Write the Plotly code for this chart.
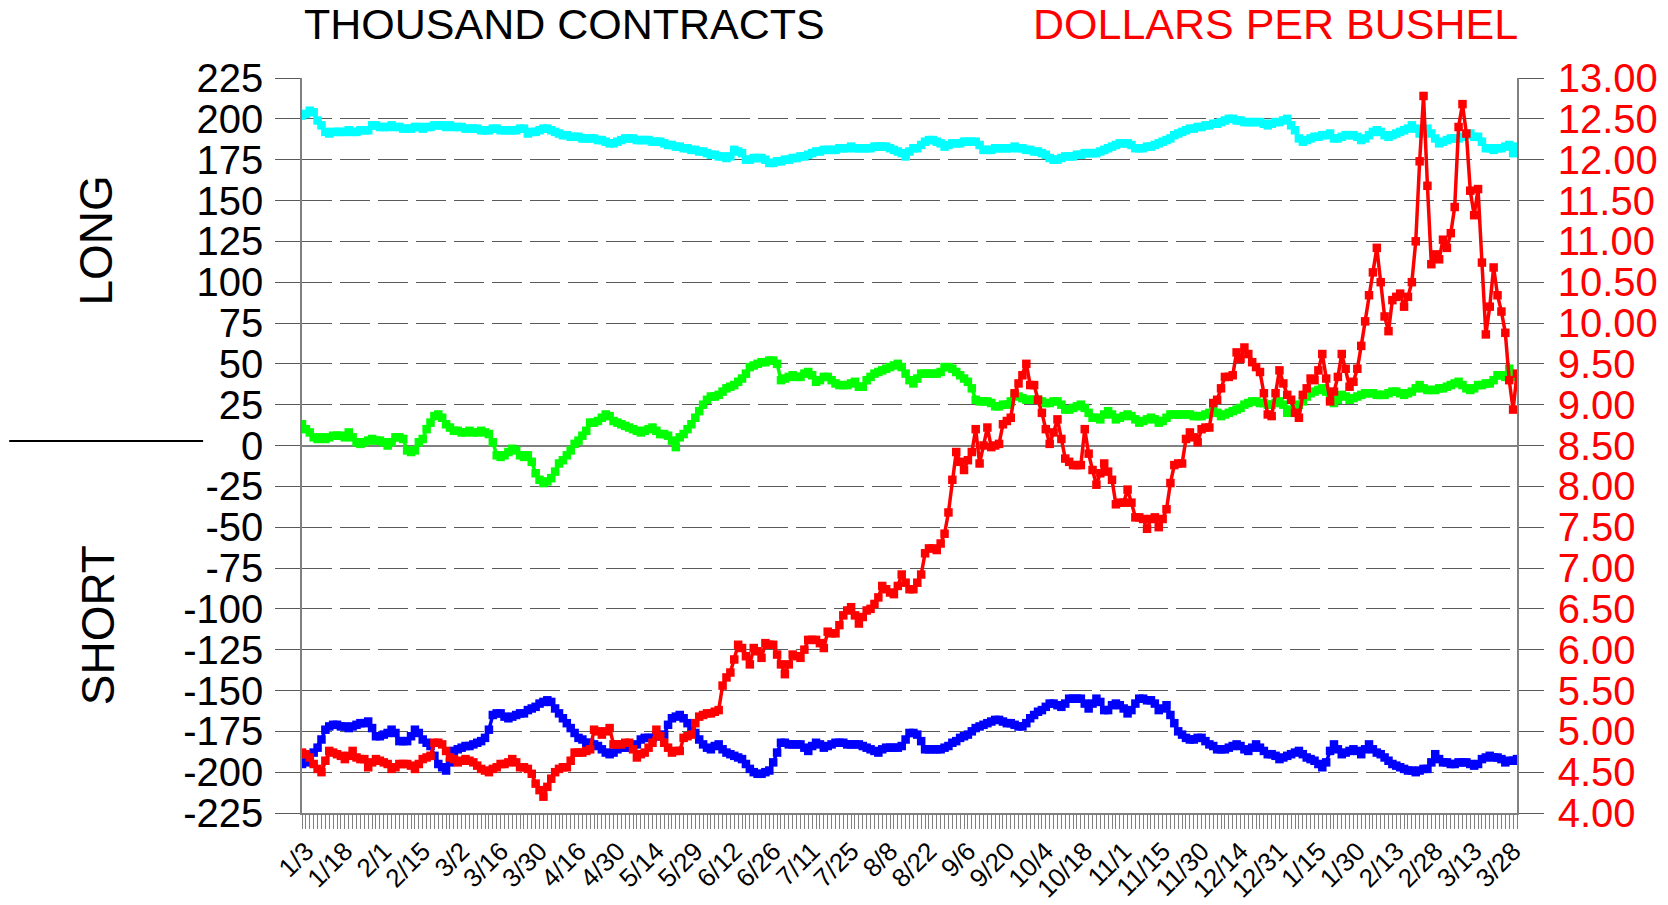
import plotly.graph_objects as go

tick_labels = ["1/3", "1/18", "2/1", "2/15", "3/2", "3/16", "3/30", "4/16", "4/30", "5/14",
               "5/29", "6/12", "6/26", "7/11", "7/25", "8/8", "8/22", "9/6", "9/20", "10/4",
               "10/18", "11/1", "11/15", "11/30", "12/14", "12/31", "1/15", "1/30", "2/13",
               "2/28", "3/13", "3/28"]
label_every = 10

# Long positions (thousand contracts)
long_pos = [
    202, 203, 205, 204, 199, 196, 192, 191, 192, 192,
    192, 192, 193, 192, 192, 193, 193, 193, 196, 196,
    195, 195, 195, 196, 195, 195, 194, 194, 194, 195,
    195, 194, 195, 195, 196, 196, 196, 195, 196, 195,
    195, 195, 194, 194, 194, 194, 193, 193, 193, 194,
    194, 193, 193, 193, 193, 193, 194, 194, 191, 192,
    192, 193, 194, 194, 193, 192, 191, 190, 190, 189,
    189, 189, 188, 188, 188, 188, 187, 187, 186, 185,
    185, 186, 187, 188, 188, 188, 187, 187, 187, 187,
    186, 186, 186, 185, 184, 184, 183, 183, 182, 182,
    181, 181, 180, 180, 179, 178, 178, 177, 177, 176,
    177, 181, 180, 179, 175, 175, 176, 176, 176, 175,
    173, 173, 174, 174, 175, 175, 176, 176, 177, 177,
    178, 179, 180, 180, 181, 181, 181, 181, 182, 182,
    182, 183, 182, 182, 182, 182, 182, 183, 183, 183,
    183, 182, 181, 180, 179, 177, 180, 182, 182, 184,
    186, 187, 187, 186, 185, 183, 184, 185, 185, 185,
    186, 186, 186, 186, 184, 181, 181, 181, 182, 182,
    182, 182, 182, 183, 182, 182, 181, 181, 180, 180,
    179, 178, 176, 175, 175, 176, 177, 177, 177, 178,
    178, 179, 179, 179, 179, 180, 181, 182, 183, 184,
    185, 185, 185, 184, 182, 182, 182, 183, 183, 184,
    185, 186, 187, 188, 190, 191, 192, 193, 194, 194,
    195, 195, 196, 196, 197, 197, 198, 199, 200, 200,
    199, 199, 198, 198, 198, 198, 198, 197, 196, 197,
    198, 198, 199, 200, 196, 193, 188, 186, 187, 188,
    189, 189, 190, 190, 191, 188, 188, 189, 190, 190,
    190, 189, 187, 188, 190, 192, 193, 192, 190, 189,
    190, 191, 192, 193, 194, 196, 194, 191, 192, 194,
    191, 188, 185, 186, 187, 188, 188, 188, 189, 190,
    191, 189, 189, 186, 182, 182, 181, 182, 182, 183,
    184, 179, 183,
]

# Net positions (thousand contracts)
net_pos = [
    13, 10, 8, 5, 4, 5, 4, 5, 6, 6,
    6, 5, 8, 5, 2, 1, 2, 3, 4, 3,
    3, 2, 0, 2, 5, 5, 4, -3, -4, -3,
    2, 4, 10, 14, 18, 19, 17, 13, 11, 9,
    9, 8, 8, 9, 8, 8, 9, 8, 7, 2,
    -6, -7, -6, -4, -2, -3, -6, -7, -6, -10,
    -17, -21, -23, -22, -20, -16, -11, -9, -6, -3,
    1, 3, 6, 9, 14, 14, 15, 17, 19, 18,
    15, 14, 13, 12, 11, 10, 9, 8, 9, 10,
    11, 9, 7, 7, 6, 3, -1, 5, 7, 10,
    13, 17, 21, 25, 28, 30, 30, 31, 33, 35,
    36, 37, 39, 41, 44, 48, 49, 50, 51, 51,
    52, 52, 50, 40, 41, 42, 43, 42, 42, 44,
    45, 43, 39, 40, 42, 42, 40, 38, 37, 37,
    37, 38, 39, 36, 36, 40, 42, 44, 45, 46,
    47, 48, 49, 50, 48, 44, 40, 38, 41, 44,
    44, 44, 44, 44, 45, 48, 48, 47, 45, 43,
    41, 39, 35, 28, 27, 27, 27, 26, 24, 24,
    25, 25, 27, 31, 30, 29, 28, 28, 28, 28,
    27, 26, 26, 27, 27, 25, 22, 22, 23, 24,
    25, 23, 20, 17, 17, 16, 19, 21, 19, 16,
    17, 18, 19, 18, 16, 14, 15, 16, 17, 16,
    14, 15, 17, 19, 19, 19, 19, 19, 19, 18,
    18, 18, 19, 20, 22, 20, 18, 19, 20, 21,
    22, 23, 25, 26, 27, 27, 26, 26, 25, 25,
    26, 27, 25, 20, 22, 24, 25, 27, 30, 32,
    33, 34, 35, 33, 29, 26, 28, 31, 30, 28,
    29, 30, 31, 32, 32, 32, 31, 31, 31, 32,
    33, 33, 32, 31, 32, 33, 35, 37, 35, 34,
    34, 34, 35, 35, 36, 37, 38, 39, 37, 35,
    34, 35, 37, 37, 38, 38, 40, 43, 43, 42,
    47, 43, 42,
]

# Short positions (thousand contracts)
short_pos = [
    -195, -194, -192, -188, -185, -180, -174, -172, -171, -171,
    -172, -172, -173, -172, -171, -170, -170, -169, -173, -178,
    -178, -177, -176, -174, -176, -181, -181, -181, -178, -174,
    -176, -180, -182, -184, -190, -195, -197, -199, -194, -187,
    -186, -185, -184, -184, -183, -182, -181, -179, -174, -165,
    -164, -164, -166, -167, -166, -165, -164, -164, -162, -161,
    -160, -158, -157, -156, -157, -161, -164, -167, -170, -173,
    -176, -179, -180, -182, -182, -183, -184, -186, -188, -189,
    -188, -186, -185, -185, -185, -184, -183, -180, -179, -179,
    -179, -178, -178, -177, -171, -167, -166, -165, -167, -170,
    -173, -176, -180, -183, -185, -186, -184, -183, -186, -188,
    -189, -190, -191, -192, -195, -198, -200, -201, -201, -200,
    -199, -194, -188, -182, -182, -183, -183, -183, -183, -185,
    -187, -184, -182, -183, -185, -184, -183, -182, -182, -182,
    -183, -183, -183, -183, -184, -185, -186, -187, -188, -186,
    -185, -185, -185, -185, -184, -180, -176, -176, -177, -181,
    -186, -186, -186, -186, -186, -185, -184, -182, -181, -179,
    -178, -177, -175, -173, -172, -171, -170, -169, -168, -168,
    -169, -170, -170, -171, -172, -172, -170, -167, -165, -163,
    -162, -160, -158, -158, -159, -160, -158, -155, -155, -155,
    -155, -158, -161, -158, -155, -157, -162, -162, -159, -158,
    -159, -161, -164, -162, -158, -155, -155, -156, -156, -158,
    -162, -161, -159, -165, -170, -175, -177, -179, -180, -180,
    -179, -179, -181, -183, -184, -186, -186, -186, -185, -184,
    -183, -184, -186, -187, -185, -183, -185, -187, -189, -189,
    -190, -192, -191, -190, -189, -188, -187, -189, -191, -192,
    -193, -195, -197, -194, -187, -183, -186, -189, -188, -187,
    -186, -187, -189, -186, -183, -186, -188, -189, -191, -193,
    -195, -196, -197, -198, -199, -199, -200, -199, -198, -198,
    -194, -189, -192, -194, -194, -195, -195, -194, -194, -194,
    -195, -196, -195, -192, -191, -190, -191, -191, -192, -194,
    -193, -193, -192,
]

# Price (dollars per bushel)
price = [
    4.74, 4.72, 4.68, 4.60, 4.54, 4.50, 4.64, 4.76, 4.74, 4.72,
    4.70, 4.66, 4.70, 4.76, 4.68, 4.66, 4.66, 4.56, 4.62, 4.66,
    4.64, 4.62, 4.60, 4.54, 4.56, 4.60, 4.60, 4.60, 4.58, 4.54,
    4.60, 4.66, 4.68, 4.70, 4.86, 4.86, 4.84, 4.76, 4.68, 4.66,
    4.62, 4.64, 4.66, 4.64, 4.62, 4.58, 4.54, 4.52, 4.50, 4.54,
    4.56, 4.60, 4.60, 4.62, 4.66, 4.62, 4.56, 4.56, 4.54, 4.48,
    4.36, 4.28, 4.20, 4.32, 4.42, 4.50, 4.54, 4.56, 4.56, 4.64,
    4.74, 4.74, 4.74, 4.76, 4.78, 5.02, 5.00, 4.96, 5.00, 5.04,
    4.84, 4.84, 4.84, 4.86, 4.86, 4.78, 4.68, 4.72, 4.74, 4.80,
    4.86, 5.02, 4.94, 4.86, 4.80, 4.74, 4.76, 4.76, 4.92, 4.94,
    4.96, 5.10, 5.18, 5.20, 5.22, 5.22, 5.24, 5.26, 5.56, 5.66,
    5.72, 5.88, 6.06, 6.02, 5.92, 5.82, 6.02, 5.98, 5.90, 6.08,
    6.06, 6.06, 5.94, 5.82, 5.70, 5.82, 5.94, 5.92, 5.90, 6.00,
    6.12, 6.12, 6.12, 6.08, 6.02, 6.22, 6.20, 6.20, 6.30, 6.42,
    6.48, 6.52, 6.42, 6.32, 6.40, 6.48, 6.50, 6.56, 6.64, 6.78,
    6.74, 6.70, 6.68, 6.78, 6.92, 6.82, 6.74, 6.74, 6.82, 6.92,
    7.18, 7.24, 7.24, 7.22, 7.30, 7.42, 7.68, 8.08, 8.42, 8.30,
    8.20, 8.32, 8.42, 8.70, 8.28, 8.50, 8.72, 8.48, 8.50, 8.52,
    8.76, 8.80, 8.84, 9.14, 9.26, 9.36, 9.50, 9.24, 9.24, 9.06,
    8.90, 8.70, 8.52, 8.66, 8.82, 8.58, 8.34, 8.30, 8.26, 8.26,
    8.26, 8.70, 8.40, 8.20, 8.02, 8.16, 8.28, 8.18, 8.08, 7.78,
    7.80, 7.80, 7.96, 7.80, 7.62, 7.62, 7.60, 7.48, 7.60, 7.62,
    7.50, 7.60, 7.72, 8.04, 8.26, 8.28, 8.28, 8.58, 8.66, 8.60,
    8.54, 8.70, 8.72, 8.72, 9.02, 9.06, 9.20, 9.34, 9.34, 9.36,
    9.64, 9.56, 9.70, 9.62, 9.52, 9.46, 9.40, 9.14, 8.88, 8.86,
    9.14, 9.42, 9.26, 9.12, 9.06, 8.90, 8.84, 9.12, 9.20, 9.32,
    9.30, 9.42, 9.62, 9.32, 9.04, 9.16, 9.34, 9.62, 9.44, 9.22,
    9.28, 9.44, 9.72, 10.02, 10.34, 10.62, 10.92, 10.50, 10.08, 9.90,
    10.28, 10.32, 10.36, 10.20, 10.32, 10.50, 11.00, 11.98, 12.78, 11.68,
    10.72, 10.84, 10.78, 11.02, 10.92, 11.10, 11.42, 12.40, 12.68, 12.32,
    11.62, 11.32, 11.64, 10.74, 9.86, 10.20, 10.68, 10.34, 10.14, 9.88,
    9.30, 8.94, 9.38,
]

left_ticks = list(range(-225, 226, 25))
right_ticks = [4.0 + 0.5 * i for i in range(19)]

FONT = "Liberation Sans, Arial, sans-serif"
GRID = "#5a5a5a"
AXIS = "#808080"

days = list(range(len(price)))

fig = go.Figure()
series = [
    (long_pos, "#00FFFF", "y"),
    (net_pos, "#00FF00", "y"),
    (short_pos, "#0000FF", "y"),
    (price, "#FF0000", "y2"),
]
for vals, col, ax in series:
    fig.add_trace(go.Scatter(
        x=days, y=vals, yaxis=ax, mode="lines+markers",
        line=dict(color=col, width=3.5),
        marker=dict(symbol="square", size=8.5, color=col),
        showlegend=False, hoverinfo="skip",
    ))

fig.update_layout(
    width=1668, height=905,
    paper_bgcolor="white", plot_bgcolor="white",
    margin=dict(l=302, r=151, t=78, b=92, autoexpand=False),
    font=dict(family=FONT, color="black"),
    xaxis=dict(
        range=[0, len(price) - 1],
        automargin=False,
        tickmode="array",
        tickvals=[i * label_every for i in range(len(tick_labels))],
        ticktext=tick_labels,
        tickangle=-45,
        tickfont=dict(size=26, family=FONT, color="black"),
        ticks="outside", ticklen=14, tickcolor=AXIS, tickwidth=1,
        ticklabelstandoff=-3,
        ticklabelshift=4,
        minor=dict(tickmode="linear", tick0=0, dtick=1, ticks="outside",
                   ticklen=14, tickcolor=AXIS, tickwidth=1, showgrid=False),
        showgrid=False, zeroline=False,
        showline=True, linecolor=AXIS, linewidth=1.5,
    ),
    yaxis=dict(
        range=[-225, 225],
        automargin=False,
        tickmode="array",
        tickvals=left_ticks,
        ticktext=[str(v) for v in left_ticks],
        tickfont=dict(size=40, family=FONT, color="black"),
        ticks="outside", ticklen=25, tickcolor=GRID, tickwidth=1.3,
        ticklabelstandoff=4,
        showgrid=True, gridcolor=GRID, gridwidth=1.3, griddash="30px,8px",
        zeroline=True, zerolinecolor=AXIS, zerolinewidth=1.5,
        showline=True, linecolor=AXIS, linewidth=1.5,
    ),
    yaxis2=dict(
        overlaying="y", side="right",
        automargin=False,
        range=[4, 13],
        tickmode="array",
        tickvals=right_ticks,
        ticktext=["%.2f" % v for v in right_ticks],
        tickfont=dict(size=40, family=FONT, color="#FF0000"),
        ticks="outside", ticklen=25, tickcolor=GRID, tickwidth=1.3,
        ticklabelstandoff=6,
        showgrid=False, zeroline=False,
        showline=True, linecolor=AXIS, linewidth=1.5,
    ),
    annotations=[
        dict(text="THOUSAND CONTRACTS", xref="paper", yref="paper",
             x=0.0, y=1.073, xanchor="left", yanchor="middle", showarrow=False,
             font=dict(size=43, family=FONT, color="black")),
        dict(text="DOLLARS PER BUSHEL", xref="paper", yref="paper",
             x=1.0025, y=1.073, xanchor="right", yanchor="middle", showarrow=False,
             font=dict(size=43, family=FONT, color="#FF0000")),
        dict(text="LONG", xref="paper", yref="paper", textangle=-90,
             x=-0.1694, y=0.779, xanchor="center", yanchor="middle", showarrow=False,
             font=dict(size=46, family=FONT, color="black")),
        dict(text="SHORT", xref="paper", yref="paper", textangle=-90,
             x=-0.168, y=0.2553, xanchor="center", yanchor="middle", showarrow=False,
             font=dict(size=46, family=FONT, color="black")),
    ],
    shapes=[
        dict(type="line", xref="paper", yref="paper",
             x0=-0.2410, x1=-0.0814, y0=0.5061, y1=0.5061,
             line=dict(color="black", width=2)),
    ],
)

fig.write_html("out.html", config={"displayModeBar": False},
               post_script="document.body.style.margin='0px';")
